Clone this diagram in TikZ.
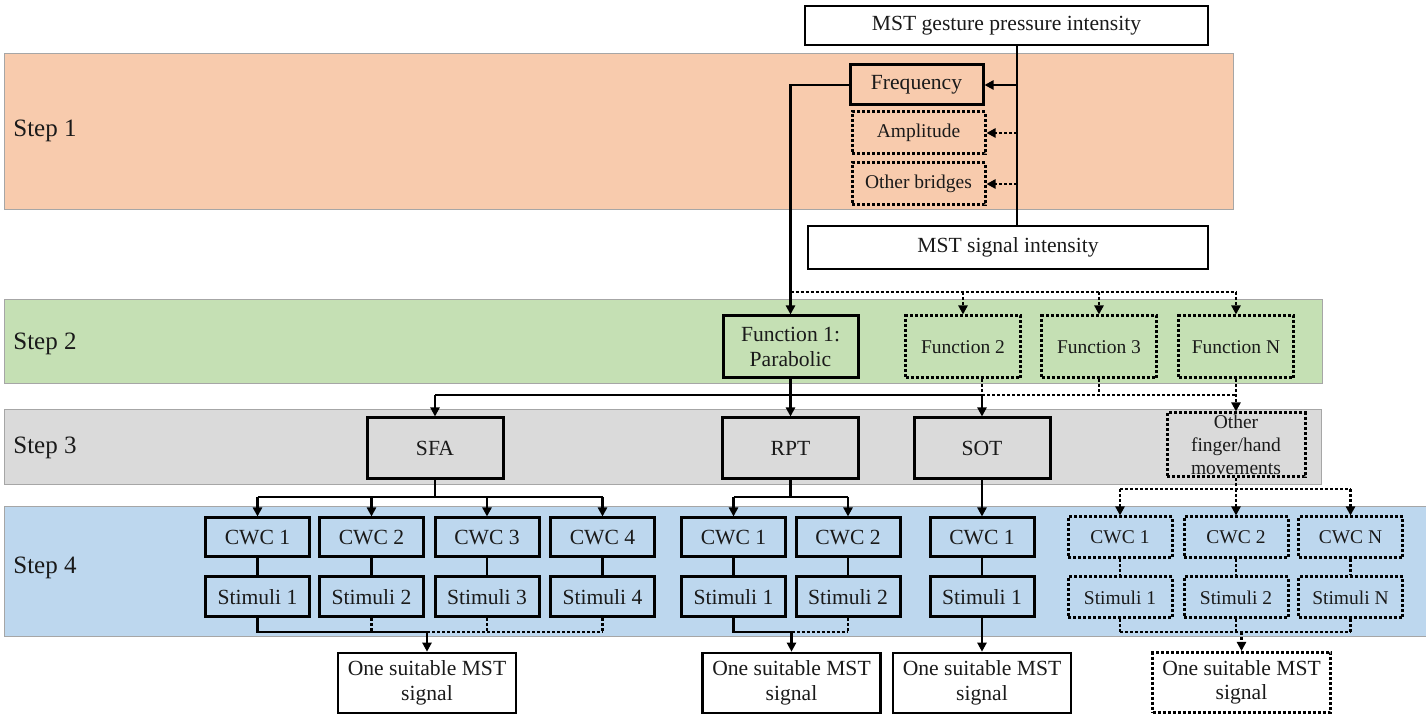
\documentclass[tikz,border=0pt]{standalone}
\usepackage{fontspec}
\setmainfont{Liberation Serif}
\usetikzlibrary{arrows.meta}
\definecolor{stepone}{HTML}{F8CBAD}
\definecolor{steptwo}{HTML}{C5E0B4}
\definecolor{stepthree}{HTML}{DADADA}
\definecolor{stepfour}{HTML}{BDD7EE}
\definecolor{edge}{HTML}{A6A6A6}
\definecolor{ink}{HTML}{1A1A1A}
\tikzset{
  band/.style={draw=edge, line width=0.5pt},
  steplab/.style={text=ink, font=\fontsize{12.5}{14}\selectfont, anchor=west, inner sep=0pt},
  box/.style={draw=black, line width=1.5pt, align=center, inner sep=0pt, text=ink, font=\fontsize{10.8}{12.25}\selectfont},
  dbox/.style={box, dash pattern=on 1.5pt off 1pt, font=\fontsize{9.75}{11.5}\selectfont},
  cwc/.style={box, minimum width=52pt, minimum height=19.5pt},
  stim/.style={box, minimum width=52pt, minimum height=20pt},
  dcwc/.style={dbox, minimum width=52pt, minimum height=20.5pt},
  dstim/.style={dbox, minimum width=52pt, minimum height=20.5pt},
  outbox/.style={box, line width=1.3pt, minimum width=89pt, minimum height=30pt},
  conn/.style={draw=black, line width=1.3pt},
  dconn/.style={conn, dash pattern=on 1.5pt off 1pt},
  arr/.style={conn, -{Triangle[length=4.5pt,width=4.5pt]}},
  darr/.style={dconn, -{Triangle[length=4.5pt,width=4.5pt]}},
}
\begin{document}
\begin{tikzpicture}[x=0.5pt,y=-0.5pt]
  \useasboundingbox (0,0) rectangle (1426,716);
  % step bands
  \draw[band, fill=stepone] (4,54) rectangle (1233,210);
  \draw[band, fill=steptwo] (4,300) rectangle (1322,384);
  \draw[band, fill=stepthree] (4,410) rectangle (1321,485);
  \draw[band, fill=stepfour] (4,507) rectangle (1426,637);
  \node[steplab] (st1) at (13,131) {Step 1};
  \node[steplab] (st2) at (13,344) {Step 2};
  \node[steplab] (st3) at (13,448) {Step 3};
  \node[steplab] (st4) at (13,568) {Step 4};

  % step 1
  \node[box, line width=1.3pt, minimum width=201.5pt, minimum height=19.5pt] (gest) at (1006.5,25.5) {MST gesture pressure intensity};
  \node[box, line width=1.3pt, minimum width=200pt, minimum height=21.5pt] (sig) at (1008,247.5) {MST signal intensity};
  \node[box, minimum width=66.5pt, minimum height=20pt] (freq) at (916.5,85) {Frequency};
  \node[dbox, minimum width=66.5pt, minimum height=21pt] (ampl) at (918.5,133) {Amplitude};
  \node[dbox, minimum width=66.5pt, minimum height=21pt] (othb) at (918.5,184) {Other bridges};
  \coordinate (trunk) at (1017,0);
  \draw[conn] (gest.south -| trunk) -- (sig.north -| trunk);
  \draw[arr] (trunk |- freq.east) -- (freq.east);
  \draw[darr] (trunk |- ampl.east) -- (ampl.east);
  \draw[darr] (trunk |- othb.east) -- (othb.east);

  % step 2
  \node[box, minimum width=67.5pt, minimum height=31pt] (fun1) at (790.5,347) {Function 1:\\Parabolic};
  \node[dbox, minimum width=57.5pt, minimum height=31pt] (fun2) at (963,347) {Function 2};
  \node[dbox, minimum width=57.5pt, minimum height=31pt] (fun3) at (1099,347) {Function 3};
  \node[dbox, minimum width=57.5pt, minimum height=31pt] (funN) at (1236,347) {Function N};
  \coordinate (fbus) at (0,292);
  \draw[arr] (freq.west) -| (fun1.north);
  \draw[dconn] (fbus -| fun1) -- (fbus -| funN);
  \foreach \f in {fun2,fun3,funN}
    \draw[darr] (fbus -| \f) -- (\f.north);

  % step 3
  \node[box, minimum width=68pt, minimum height=30.5pt] (sfa) at (435,448.5) {SFA};
  \node[box, minimum width=68pt, minimum height=30.5pt] (rpt) at (790.5,448.5) {RPT};
  \node[box, minimum width=68pt, minimum height=30.5pt] (sot) at (982,448.5) {SOT};
  \node[dbox, minimum width=69pt, minimum height=32pt] (oth) at (1236,445) {Other\\finger/hand\\movements};
  \coordinate (sbus) at (0,395);
  \draw[conn] (sbus -| sfa) -- (sbus -| sot);
  \draw[arr] (sbus -| sfa) -- (sfa.north);
  \draw[arr] (fun1.south) -- (rpt.north);
  \draw[arr] (sbus -| sot) -- (sot.north);
  \draw[dconn] (fun2.south -| sot) -- (sbus -| sot);
  \draw[dconn] (sbus -| sot) -- (sbus -| funN);
  \draw[dconn] (fun3.south) -- (sbus -| fun3);
  \draw[darr] (funN.south) -- (oth.north);

  % step 4
  \coordinate (cbus) at (0,497);
  \coordinate (dbus) at (0,489);
  \coordinate (obus) at (0,632);
  \node[cwc] (c11) at (257.5,537.5) {CWC 1};
  \node[cwc] (c12) at (371.5,537.5) {CWC 2};
  \node[cwc] (c13) at (487,537.5) {CWC 3};
  \node[cwc] (c14) at (602.5,537.5) {CWC 4};
  \node[stim] (s11) at (257.5,597) {Stimuli 1};
  \node[stim] (s12) at (371.5,597) {Stimuli 2};
  \node[stim] (s13) at (487,597) {Stimuli 3};
  \node[stim] (s14) at (602.5,597) {Stimuli 4};
  \node[cwc] (c21) at (733.5,537.5) {CWC 1};
  \node[cwc] (c22) at (848,537.5) {CWC 2};
  \node[stim] (s21) at (733.5,597) {Stimuli 1};
  \node[stim] (s22) at (848,597) {Stimuli 2};
  \node[cwc] (c31) at (982,537.5) {CWC 1};
  \node[stim] (s31) at (982,597) {Stimuli 1};
  \node[dcwc] (c41) at (1120,537.5) {CWC 1};
  \node[dcwc] (c42) at (1236,537.5) {CWC 2};
  \node[dcwc] (c43) at (1350.5,537.5) {CWC N};
  \node[dstim] (s41) at (1120,597.5) {Stimuli 1};
  \node[dstim] (s42) at (1236,597.5) {Stimuli 2};
  \node[dstim] (s43) at (1350.5,597.5) {Stimuli N};

  % outputs
  \node[outbox] (o1) at (427,683) {One suitable MST\\signal};
  \node[outbox] (o2) at (791.5,683) {One suitable MST\\signal};
  \node[outbox] (o3) at (982,683) {One suitable MST\\signal};
  \node[outbox, dash pattern=on 1.5pt off 1pt, line width=1.5pt] (o4) at (1241.5,682.5) {One suitable MST\\signal};

  % SFA branch
  \draw[conn] (sfa.south) -- (cbus -| sfa);
  \draw[conn] (cbus -| c11) -- (cbus -| c14);
  \foreach \c/\s in {c11/s11,c12/s12,c13/s13,c14/s14} {
    \draw[arr] (cbus -| \c) -- (\c.north);
    \draw[conn] (\c) -- (\s);
  }
  \draw[arr] (s11.south) |- (obus -| o1) -- (o1.north);
  \draw[dconn] (obus -| o1) -- (obus -| s14);
  \foreach \s in {s12,s13,s14}
    \draw[dconn] (\s.south) -- (obus -| \s);

  % RPT branch
  \draw[conn] (rpt.south) -- (cbus -| rpt);
  \draw[conn] (cbus -| c21) -- (cbus -| c22);
  \foreach \c/\s in {c21/s21,c22/s22} {
    \draw[arr] (cbus -| \c) -- (\c.north);
    \draw[conn] (\c) -- (\s);
  }
  \draw[arr] (s21.south) |- (obus -| o2) -- (o2.north);
  \draw[dconn] (obus -| o2) -- (obus -| s22);
  \draw[dconn] (s22.south) -- (obus -| s22);

  % SOT branch
  \draw[arr] (sot) -- (c31);
  \draw[conn] (c31) -- (s31);
  \draw[arr] (s31) -- (o3);

  % other movements
  \draw[dconn] (oth.south) -- (dbus -| oth);
  \draw[dconn] (dbus -| c41) -- (dbus -| c43);
  \foreach \c/\s in {c41/s41,c42/s42,c43/s43} {
    \draw[darr] (dbus -| \c) -- (\c.north);
    \draw[dconn] (\c) -- (\s);
    \draw[dconn] (\s.south) -- (obus -| \s);
  }
  \draw[dconn] (obus -| s41) -- (obus -| s43);
  \draw[darr] (obus -| o4) -- (o4.north);
\end{tikzpicture}
\end{document}
